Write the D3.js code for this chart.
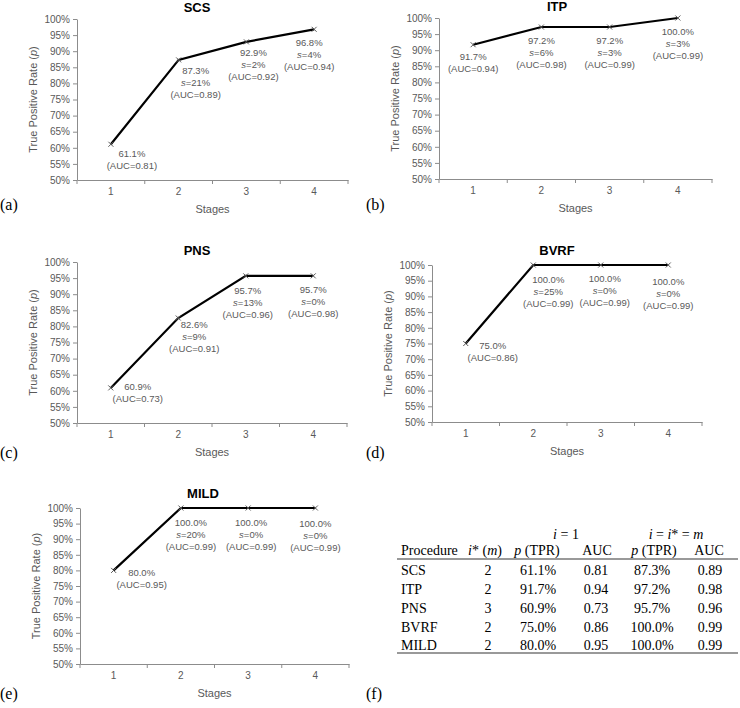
<!DOCTYPE html>
<html>
<head>
<meta charset="utf-8">
<script src="https://cdn.jsdelivr.net/npm/d3@7"></script>
<style>
  body { margin: 0; background: #fff; }
  svg text { font-family: "Liberation Sans", Arial, sans-serif; }
  .tbl text { font-family: "Liberation Serif", "Times New Roman", serif; }
</style>
</head>
<body>
<svg id="chart" width="740" height="708"></svg>
<script>
var stages = [1, 2, 3, 4]
var procedures = ['SCS', 'ITP', 'PNS', 'BVRF', 'MILD']
var tpr_SCS = [61.1, 87.3, 92.9, 96.8]
var tpr_ITP = [91.7, 97.2, 97.2, 100.0]
var tpr_PNS = [60.9, 82.6, 95.7, 95.7]
var tpr_BVRF = [75.0, 100.0, 100.0, 100.0]
var tpr_MILD = [80.0, 100.0, 100.0, 100.0]
var s_SCS = [null, 21, 2, 4]
var s_ITP = [null, 6, 3, 3]
var s_PNS = [null, 9, 13, 0]
var s_BVRF = [null, 25, 0, 0]
var s_MILD = [null, 20, 0, 0]
var auc_SCS = [0.81, 0.89, 0.92, 0.94]
var auc_ITP = [0.94, 0.98, 0.99, 0.99]
var auc_PNS = [0.73, 0.91, 0.96, 0.98]
var auc_BVRF = [0.86, 0.99, 0.99, 0.99]
var auc_MILD = [0.95, 0.99, 0.99, 0.99]
var best_stage = [2, 2, 3, 2, 2]   // i* (m)
var y_ticks = [50, 55, 60, 65, 70, 75, 80, 85, 90, 95, 100]

var tpr_all = [tpr_SCS, tpr_ITP, tpr_PNS, tpr_BVRF, tpr_MILD]
var s_all = [s_SCS, s_ITP, s_PNS, s_BVRF, s_MILD]
var auc_all = [auc_SCS, auc_ITP, auc_PNS, auc_BVRF, auc_MILD]

// layout of the five small charts
var panel_box = [
  { left: 77, right: 348, top: 19, bottom: 180, titleX: 197, titleY: 12, tag: '(a)', tagX: 0, tagY: 210 },
  { left: 439, right: 712, top: 18, bottom: 179, titleX: 557, titleY: 11, tag: '(b)', tagX: 366, tagY: 210 },
  { left: 77, right: 347, top: 262, bottom: 423, titleX: 197, titleY: 255, tag: '(c)', tagX: 0, tagY: 458 },
  { left: 432, right: 702, top: 265, bottom: 422, titleX: 557, titleY: 255, tag: '(d)', tagX: 366, tagY: 458 },
  { left: 80, right: 349, top: 508, bottom: 664, titleX: 203, titleY: 498, tag: '(e)', tagX: 0, tagY: 699 }
]
// data label offsets (manually placed in the original)
var label_dx = [[21, 17, 7, -5], [0, 0, 0, 0], [27, 16, 2, 0], [27, 15, 4, 0], [28, 10, 3, 0]]
var label_dy = [[9, 11, 11, 13], [12, 13, 13, 13], [-1, 6, 15, 14], [2, 14, 13, 16], [2, 14, 14, 15]]

var grey = '#595959'
var axisCol = '#8c8c8c'
var svg = d3.select('#chart')

for (var k = 0; k < procedures.length; k++) {
  var b = panel_box[k]
  var x = d3.scaleBand().domain(stages).range([b.left, b.right]).padding(0)
  var y = d3.scaleLinear().domain([50, 100]).range([b.bottom, b.top])
  var g = svg.append('g').attr('class', 'panel-' + procedures[k])

  // y axis
  var ya = g.append('g')
    .attr('transform', 'translate(' + b.left + ',0)')
    .call(d3.axisLeft(y).tickValues(y_ticks).tickFormat(d => d + '%').tickSize(4).tickSizeOuter(0).tickPadding(3))
  ya.select('.domain').attr('stroke', axisCol)
  ya.selectAll('line').attr('stroke', axisCol)
  ya.selectAll('text').attr('fill', grey).style('font-size', '10px')

  // x axis, ticks between categories like excel
  var xa = g.append('g')
    .attr('transform', 'translate(0,' + b.bottom + ')')
    .call(d3.axisBottom(x).tickSize(0).tickPadding(8))
  xa.select('.domain').attr('stroke', axisCol)
  xa.selectAll('text').attr('fill', grey).style('font-size', '10px')
  g.selectAll('.xtick')
    .data(stages.concat(['end']))
    .enter()
    .append('line')
    .attr('x1', d => d === 'end' ? b.right : x(d))
    .attr('x2', d => d === 'end' ? b.right : x(d))
    .attr('y1', b.bottom)
    .attr('y2', b.bottom + 4)
    .attr('stroke', axisCol)

  // titles
  g.append('text')
    .attr('x', b.titleX).attr('y', b.titleY)
    .attr('text-anchor', 'middle')
    .style('font-size', '13px').style('font-weight', 'bold')
    .text(procedures[k])
  g.append('text')
    .attr('x', (b.left + b.right) / 2).attr('y', b.bottom + 33)
    .attr('text-anchor', 'middle')
    .attr('fill', grey)
    .style('font-size', '11px')
    .text('Stages')
  var yt = g.append('text')
    .attr('transform', 'translate(' + (b.left - 40) + ',' + ((b.top + b.bottom) / 2) + ') rotate(-90)')
    .attr('text-anchor', 'middle')
    .attr('fill', grey)
    .style('font-size', '11px')
  yt.append('tspan').text('True Positive Rate (')
  yt.append('tspan').style('font-style', 'italic').text('p')
  yt.append('tspan').text(')')

  g.append('text')
    .attr('x', b.tagX).attr('y', b.tagY)
    .style('font-family', '"Liberation Serif", "Times New Roman", serif')
    .style('font-size', '16px')
    .text(b.tag)

  // the line
  var pts = stages.map((s, i) => ({ stage: s, v: tpr_all[k][i], s: s_all[k][i], auc: auc_all[k][i], i: i }))
  var line = d3.line().x(d => x(d.stage) + x.bandwidth() / 2).y(d => y(d.v))
  g.append('path')
    .datum(pts)
    .attr('d', line)
    .attr('fill', 'none')
    .attr('stroke', '#000')
    .attr('stroke-width', 2.2)

  // x markers
  g.selectAll('.mark')
    .data(pts)
    .enter()
    .append('path')
    .attr('d', d => {
      var cx = x(d.stage) + x.bandwidth() / 2, cy = y(d.v), r = 2.5
      return 'M' + (cx - r) + ',' + (cy - r) + 'L' + (cx + r) + ',' + (cy + r) +
             'M' + (cx - r) + ',' + (cy + r) + 'L' + (cx + r) + ',' + (cy - r)
    })
    .attr('stroke', grey)
    .attr('stroke-width', 1)

  // data labels
  var kk = k
  pts.forEach(d => {
    var cx = x(d.stage) + x.bandwidth() / 2 + label_dx[kk][d.i]
    var cy = y(d.v) + label_dy[kk][d.i] + 3.5
    var t = g.append('text')
      .attr('text-anchor', 'middle')
      .attr('fill', grey)
      .style('font-size', '9.5px')
    var row = 0
    t.append('tspan').attr('x', cx).attr('y', cy).text(d.v.toFixed(1) + '%')
    row++
    if (d.s !== null) {
      var sl = t.append('tspan').attr('x', cx).attr('y', cy + row * 12)
      sl.append('tspan').style('font-style', 'italic').text('s')
      t.append('tspan').text('=' + d.s + '%')
      row++
    }
    t.append('tspan').attr('x', cx).attr('y', cy + row * 12).text('(AUC=' + d.auc.toFixed(2) + ')')
  })
}

// table (f)
var tbl = svg.append('g').attr('class', 'tbl')
var tfs = '14px'
var colX = [401, 488, 538, 596, 652, 710]
var rowY = [575, 594, 613, 632, 650]

tbl.append('text').attr('x', 366).attr('y', 699).style('font-size', '16px').text('(f)')

var h1 = tbl.append('text').attr('x', 566).attr('y', 539).attr('text-anchor', 'middle').style('font-size', tfs)
h1.append('tspan').style('font-style', 'italic').text('i')
h1.append('tspan').text(' = 1')
var h2 = tbl.append('text').attr('x', 676).attr('y', 539).attr('text-anchor', 'middle').style('font-size', tfs)
h2.append('tspan').style('font-style', 'italic').text('i')
h2.append('tspan').text(' = ')
h2.append('tspan').style('font-style', 'italic').text('i')
h2.append('tspan').text('* = ')
h2.append('tspan').style('font-style', 'italic').text('m')

var hy = 555
tbl.append('text').attr('x', colX[0]).attr('y', hy).style('font-size', tfs).text('Procedure')
var hc1 = tbl.append('text').attr('x', 485).attr('y', hy).attr('text-anchor', 'middle').style('font-size', tfs)
hc1.append('tspan').style('font-style', 'italic').text('i')
hc1.append('tspan').text('* (')
hc1.append('tspan').style('font-style', 'italic').text('m')
hc1.append('tspan').text(')')
;[537, 654].forEach(cx => {
  var h = tbl.append('text').attr('x', cx).attr('y', hy).attr('text-anchor', 'middle').style('font-size', tfs)
  h.append('tspan').style('font-style', 'italic').text('p')
  h.append('tspan').text(' (TPR)')
})
;[597, 709].forEach(cx => {
  tbl.append('text').attr('x', cx).attr('y', hy).attr('text-anchor', 'middle').style('font-size', tfs).text('AUC')
})

tbl.append('line').attr('x1', 397).attr('x2', 738).attr('y1', 559).attr('y2', 559).attr('stroke', '#777').attr('stroke-width', 1.3)
tbl.append('line').attr('x1', 397).attr('x2', 738).attr('y1', 653).attr('y2', 653).attr('stroke', '#777').attr('stroke-width', 1.3)

procedures.forEach((p, r) => {
  var m = best_stage[r] - 1
  var cells = [
    p,
    String(best_stage[r]),
    tpr_all[r][0].toFixed(1) + '%',
    auc_all[r][0].toFixed(2),
    tpr_all[r][m].toFixed(1) + '%',
    auc_all[r][m].toFixed(2)
  ]
  cells.forEach((c, j) => {
    tbl.append('text')
      .attr('x', colX[j]).attr('y', rowY[r])
      .attr('text-anchor', j === 0 ? 'start' : 'middle')
      .style('font-size', tfs)
      .text(c)
  })
})
</script>
</body>
</html>
